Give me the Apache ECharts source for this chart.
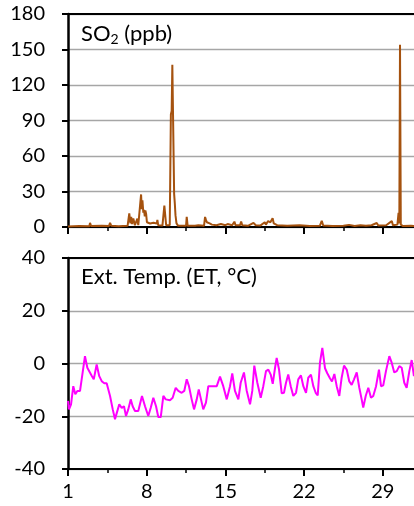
<!DOCTYPE html>
<html>
<head>
<meta charset="utf-8">
<script src="https://cdn.jsdelivr.net/npm/echarts@6/dist/echarts.min.js"></script>
<style>
  html, body { margin: 0; padding: 0; background: #fff; }
  #chart { width: 414px; height: 506px; }
</style>
</head>
<body>
<div id="chart"></div>
<script>
// day of month for the x axis
const dayLabels = [1, 8, 15, 22, 29]
const so2Ticks = [0, 30, 60, 90, 120, 150, 180]
const tempTicks = [-40, -20, 0, 20, 40]

// SO2 (ppb)
const so2Days = [1.0, 2.0, 2.9, 2.96, 3.05, 4.0, 4.65, 4.74, 4.85, 5.5, 6.3, 6.45, 6.55, 6.62, 6.7, 6.81, 6.95, 7.1, 7.17, 7.25,
    7.4, 7.5, 7.56, 7.62, 7.7, 7.76, 7.83, 7.88, 7.95, 8.02, 8.3, 8.6, 8.9, 8.95, 9.02, 9.4, 9.5, 9.57, 9.66, 9.73,
    10.05, 10.15, 10.22, 10.28, 10.36, 10.44, 10.5, 10.56, 10.65, 10.8, 11.5, 11.56, 11.64, 12.3, 12.6, 13.1, 13.19, 13.27, 13.35, 13.5,
    13.6, 13.8, 14.2, 14.6, 15.0, 15.2, 15.6, 15.8, 15.9, 16.3, 16.4, 16.5, 17.0, 17.5, 17.7, 18.1, 18.5, 18.6, 18.8, 19.0,
    19.2, 19.3, 19.6, 20.5, 21.6, 22.5, 23.4, 23.57, 23.7, 24.5, 25.5, 26.0, 26.5, 27.0, 27.5, 28.0, 28.46, 28.6, 29.3, 29.8,
    29.9, 30.3, 30.4, 30.47, 30.53, 30.6, 30.8, 31.5, 31.8]
const so2Values = [0.5, 0.8, 0.6, 3.5, 0.8, 1.0, 0.8, 3.5, 1.0, 0.6, 1.0, 11.5, 3, 8.5, 2.5, 7.3, 1.5, 2, 7, 1.5,
    2, 27.5, 15, 22.5, 12, 14.5, 9, 14, 11, 4, 3, 3.5, 3, 6, 1.5, 1.2, 1.5, 18, 17, 1.5,
    1.5, 95, 98, 137, 136, 28, 20, 10, 3, 1, 1, 8.5, 1, 1, 1.5, 1, 8.5, 6, 4, 4.5,
    3, 2, 1.5, 2.5, 1.5, 2.5, 1.5, 4.5, 1.5, 1.5, 4.5, 1.5, 1, 3.5, 1.5, 1.2, 4, 2, 5, 4,
    7.5, 3, 1.5, 1, 1.5, 0.8, 1, 5.3, 1.2, 0.8, 1, 1.8, 0.8, 1.5, 1, 1.5, 3.4, 1.2, 1.5, 5,
    1.5, 2, 12, 3, 154, 2, 0.8, 1, 0.8]

// external temperature (°C), bottom panel
const tempDays = [1.00, 1.09, 1.27, 1.47, 1.65, 1.83, 2.07, 2.22, 2.51, 2.60, 2.72, 2.89, 3.13, 3.29, 3.55, 3.78, 4.00, 4.23, 4.44, 4.74,
    4.98, 5.18, 5.33, 5.56, 5.78, 5.98, 6.16, 6.36, 6.58, 6.75, 6.96, 7.25, 7.58, 7.85, 8.14, 8.36, 8.59, 8.83, 9.03, 9.25,
    9.48, 9.69, 10.07, 10.31, 10.58, 10.81, 11.11, 11.34, 11.56, 11.76, 12.00, 12.21, 12.45, 12.63, 12.83, 13.03, 13.27, 13.48, 13.92, 14.23,
    14.52, 14.81, 15.12, 15.41, 15.61, 15.85, 16.15, 16.36, 16.65, 16.89, 17.19, 17.39, 17.57, 17.84, 18.14, 18.37, 18.61, 18.82, 19.03, 19.21,
    19.41, 19.56, 19.77, 20.01, 20.21, 20.39, 20.59, 20.81, 21.04, 21.28, 21.48, 21.72, 21.93, 22.17, 22.37, 22.61, 22.82, 23.03, 23.21, 23.41,
    23.62, 23.86, 24.06, 24.30, 24.48, 24.69, 24.90, 25.13, 25.34, 25.55, 25.79, 26.02, 26.23, 26.44, 26.68, 26.91, 27.12, 27.26, 27.48, 27.71,
    27.95, 28.15, 28.40, 28.66, 28.84, 29.04, 29.28, 29.58, 29.79, 30.02, 30.24, 30.47, 30.68, 30.91, 31.12, 31.36, 31.57, 31.77]
const tempValues = [-14.2, -17.4, -15.5, -8.6, -11.7, -10.4, -10.4, -9.8, 2.8, 3.4, -1.6, -1.6, -4.8, -6.0, -0.4, -4.8, -6.7, -7.5, -7.5, -12.3,
    -17.4, -21.1, -20.5, -15.5, -16.8, -16.2, -19.9, -17.4, -13.6, -16.2, -18.0, -18.0, -12.3, -16.2, -19.9, -16.8, -13.0, -16.2, -20.3, -20.3,
    -12.3, -13.6, -13.9, -13.0, -9.2, -10.4, -11.1, -10.4, -6.0, -8.6, -13.6, -17.4, -13.6, -9.8, -13.6, -17.4, -14.8, -8.6, -8.6, -8.6,
    -5.0, -8.6, -13.6, -8.6, -3.8, -10.4, -13.6, -7.3, -3.4, -10.2, -15.5, -10.4, -0.8, -7.3, -13.0, -8.6, -2.9, -2.3, -4.2, -7.7,
    -1.8, 2.1, -2.3, -11.3, -11.1, -7.3, -4.2, -8.6, -12.3, -11.1, -6.0, -4.5, -8.6, -11.1, -5.4, -4.2, -8.6, -11.1, -12.1, 0.3,
    5.9, -1.8, -3.7, -5.6, -6.8, -4.0, -8.6, -12.3, -5.4, -0.8, -2.3, -6.8, -8.1, -6.0, -3.4, -9.2, -13.6, -16.7, -12.3, -9.2,
    -13.0, -12.3, -8.6, -2.3, -8.6, -8.3, -2.9, 2.8, 0.3, -3.4, -2.9, -1.0, -1.6, -7.3, -9.2, -2.9, 1.3, -4.8]

const FONT = 'Lato, "Liberation Sans", Arial, sans-serif'
const dayStep = dayLabels[1] - dayLabels[0]
const dayMin = dayLabels[0]
// one step past the last label; the plot runs off the right edge like the original
const dayMax = dayLabels[dayLabels.length - 1] + dayStep

const zip = (xs, ys) => xs.map((x, i) => [x, ys[i]])

const chart = echarts.init(document.getElementById('chart'), null, { renderer: 'canvas' })

// bottom x axis for a panel (ticks + optional labels)
const bottomAxis = (gridIndex, showLabels) => ({
    type: 'value',
    gridIndex,
    position: 'bottom',
    min: dayMin,
    max: dayMax,
    interval: dayStep,
    axisLine: { show: true, onZero: false, lineStyle: { color: '#000', width: 2 } },
    axisTick: { show: true, length: 7, lineStyle: { color: '#000', width: 2 } },
    minorTick: { show: true, splitNumber: 2, length: 4, lineStyle: { color: '#000', width: 1.5 } },
    axisLabel: {
        show: showLabels,
        margin: 13,
        fontSize: 20,
        fontFamily: FONT,
        color: '#000',
        formatter: (v) => (dayLabels.includes(v) ? String(v) : ''),
    },
    splitLine: { show: false },
})

// top border of a panel
const topAxis = (gridIndex) => ({
    type: 'value',
    gridIndex,
    position: 'top',
    min: dayMin,
    max: dayMax,
    axisLine: { show: true, onZero: false, lineStyle: { color: '#000', width: 2 } },
    axisTick: { show: false },
    axisLabel: { show: false },
    splitLine: { show: false },
})

const leftAxis = (gridIndex, ticks) => ({
    type: 'value',
    gridIndex,
    min: ticks[0],
    max: ticks[ticks.length - 1],
    interval: ticks[1] - ticks[0],
    axisLine: { show: true, onZero: false, lineStyle: { color: '#000', width: 2.5 } },
    axisTick: { show: true, length: 6, lineStyle: { color: '#000', width: 2 } },
    axisLabel: { margin: 23, fontSize: 20, fontFamily: FONT, color: '#000' },
    splitLine: { show: true, lineStyle: { color: '#a6a6a6', width: 1.3 } },
})

const plotWidth = 11.243 * (dayMax - dayMin)

chart.setOption({
    animation: false,
    backgroundColor: '#fff',
    title: [
        {
            text: '{a|SO}{s|2}{a| (ppb)}',
            left: 81,
            top: 22,
            padding: 0,
            textStyle: {
                fontWeight: 'normal',
                rich: {
                    a: { fontSize: 22, fontWeight: 'normal', fontFamily: FONT, color: '#000' },
                    s: { fontSize: 14, fontWeight: 'normal', fontFamily: FONT, color: '#000', verticalAlign: 'bottom', padding: [10, 0, 0, 0] },
                },
            },
        },
        {
            text: 'Ext. Temp. (ET, °C)',
            left: 81,
            top: 266,
            padding: 0,
            textStyle: { fontSize: 22, fontWeight: 'normal', fontFamily: FONT, color: '#000' },
        },
    ],
    grid: [
        { left: 68, top: 14, width: plotWidth, height: 213, outerBoundsMode: 'none', containLabel: false },
        { left: 68, top: 258, width: plotWidth, height: 211, outerBoundsMode: 'none', containLabel: false },
    ],
    xAxis: [bottomAxis(0, false), topAxis(0), bottomAxis(1, true), topAxis(1)],
    yAxis: [leftAxis(0, so2Ticks), leftAxis(1, tempTicks)],
    series: [
        {
            name: 'SO2',
            type: 'line',
            xAxisIndex: 0,
            yAxisIndex: 0,
            data: zip(so2Days, so2Values),
            showSymbol: false,
            lineStyle: { color: '#a5520f', width: 2 },
        },
        {
            name: 'ET',
            type: 'line',
            xAxisIndex: 2,
            yAxisIndex: 1,
            data: zip(tempDays, tempValues),
            showSymbol: false,
            lineStyle: { color: '#ff00ff', width: 2 },
        },
    ],
})
</script>
</body>
</html>
